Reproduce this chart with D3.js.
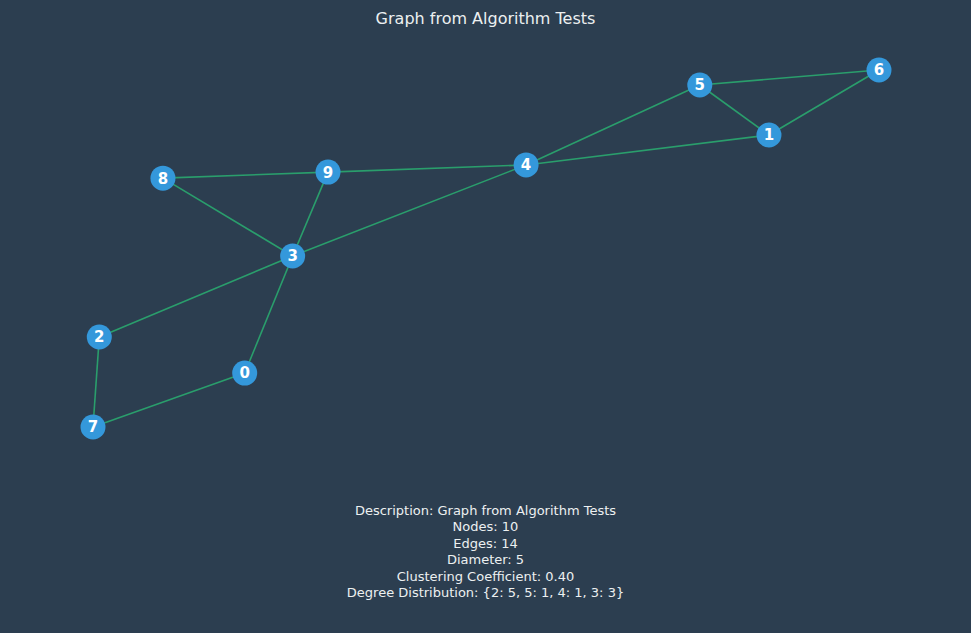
<!DOCTYPE html>
<html>
<head>
<meta charset="utf-8">
<script src="https://cdn.jsdelivr.net/npm/d3@7"></script>
<style>
  body { margin: 0; background: #2c3e50; }
  svg { display: block; }
</style>
</head>
<body>
<svg id="chart"></svg>
<script>
// node layout (normalized positions)
var nodeIds = [0, 1, 2, 3, 4, 5, 6, 7, 8, 9];
var nodeX = [0.193, 0.860, 0.008, 0.254, 0.551, 0.772, 1.000, 0.000, 0.089, 0.299];
var nodeY = [0.849, 0.182, 0.748, 0.521, 0.266, 0.042, 0.000, 1.000, 0.303, 0.286];
var edgeList = [[5, 6], [5, 1], [1, 6], [5, 4], [1, 4], [4, 9], [4, 3],
                [9, 8], [9, 3], [8, 3], [3, 2], [3, 0], [2, 7], [7, 0]];
var infoLines = [
  "Description: Graph from Algorithm Tests",
  "Nodes: 10",
  "Edges: 14",
  "Diameter: 5",
  "Clustering Coefficient: 0.40",
  "Degree Distribution: {2: 5, 5: 1, 4: 1, 3: 3}"
];

var width = 971, height = 633;
var svg = d3.select("#chart").attr("width", width).attr("height", height);

svg.append("rect").attr("width", width).attr("height", height).attr("fill", "#2c3e50");

var x = d3.scaleLinear().domain([0, 1]).range([93, 879]);
var y = d3.scaleLinear().domain([0, 1]).range([70, 427]);

svg.append("text")
  .attr("x", width / 2).attr("y", 24)
  .attr("text-anchor", "middle")
  .attr("fill", "#ecf0f1")
  .style("font-family", "DejaVu Sans")
  .style("font-size", "16px")
  .text("Graph from Algorithm Tests");

svg.selectAll("line.edge")
  .data(edgeList)
  .enter()
  .append("line")
  .attr("class", "edge")
  .attr("x1", function (d) { return x(nodeX[d[0]]); })
  .attr("y1", function (d) { return y(nodeY[d[0]]); })
  .attr("x2", function (d) { return x(nodeX[d[1]]); })
  .attr("y2", function (d) { return y(nodeY[d[1]]); })
  .attr("stroke", "#2a9e6c")
  .attr("stroke-width", 1.6);

var node = svg.selectAll("g.node")
  .data(nodeIds)
  .enter()
  .append("g")
  .attr("transform", function (d, i) {
    return "translate(" + x(nodeX[i]) + "," + y(nodeY[i]) + ")";
  });

node.append("circle").attr("r", 12.5).attr("fill", "#3498db");

node.append("text")
  .attr("text-anchor", "middle")
  .attr("dy", "0.36em")
  .attr("fill", "#ffffff")
  .style("font-family", "DejaVu Sans")
  .style("font-weight", "bold")
  .style("font-size", "15px")
  .text(function (d) { return d; });

svg.selectAll("text.info")
  .data(infoLines)
  .enter()
  .append("text")
  .attr("class", "info")
  .attr("x", width / 2)
  .attr("y", function (d, i) { return 515 + i * 16.4; })
  .attr("text-anchor", "middle")
  .attr("fill", "#ecf0f1")
  .style("font-family", "DejaVu Sans")
  .style("font-size", "13px")
  .text(function (d) { return d; });
</script>
</body>
</html>
